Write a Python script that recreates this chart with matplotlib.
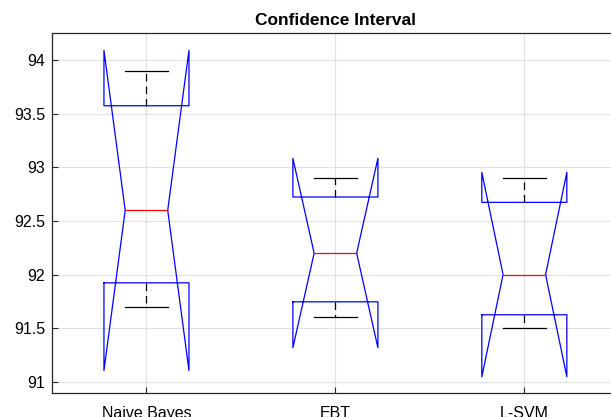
import numpy as np
import matplotlib
matplotlib.use("Agg")
import matplotlib.pyplot as plt

plt.rcParams['font.family'] = ['Liberation Sans', 'DejaVu Sans']

# values
labels = ['Naive Bayes', 'EBT', 'L-SVM']
medians = [92.60, 92.20, 92.00]
q1s = [91.923, 91.746, 91.625]
q3s = [93.576, 92.724, 92.674]
whis_lo = [91.70, 91.60, 91.50]
whis_hi = [93.90, 92.90, 92.90]
ci_lo = [91.105, 91.317, 91.046]
ci_hi = [94.093, 93.085, 92.954]

stats = []
for i in range(len(labels)):
    stats.append(dict(label=labels[i], med=medians[i], q1=q1s[i], q3=q3s[i],
                      whislo=whis_lo[i], whishi=whis_hi[i],
                      cilo=ci_lo[i], cihi=ci_hi[i], fliers=[]))

fig = plt.figure(figsize=(6.11, 4.17), dpi=100)
ax = fig.add_axes([52/611, 23.7/417, 566.8/611, 360/417])

ax.bxp(stats, positions=[1, 2, 3], widths=0.45, shownotches=True,
       showfliers=False,
       boxprops=dict(color='#0000ff', linewidth=0.9),
       medianprops=dict(color='#ff0000', linewidth=0.9),
       whiskerprops=dict(color='black', linestyle=(0, (6, 4)), linewidth=0.9),
       capprops=dict(color='black', linewidth=0.9))

ax.set_xlim(0.5, 3.5)
ax.set_ylim(90.892, 94.252)
ax.set_yticks(np.arange(91, 94.01, 0.5))
ax.set_yticklabels(['%g' % v for v in np.arange(91, 94.01, 0.5)])
ax.set_xticks([1, 2, 3])
ax.set_xticklabels(labels)

ax.grid(True, color='#e1e1e1', linewidth=0.8)
ax.set_axisbelow(True)
for s in ax.spines.values():
    s.set_color('#262626')
    s.set_linewidth(0.9)
ax.tick_params(direction='in', length=4.5, width=0.8, color='#262626',
               labelsize=11.5, labelcolor='black')
ax.tick_params(axis='x', pad=9)
ax.tick_params(axis='y', pad=5)

ax.set_title('Confidence Interval', fontsize=12.5, fontweight='bold', pad=6)

fig.savefig('out.png', dpi=100)
